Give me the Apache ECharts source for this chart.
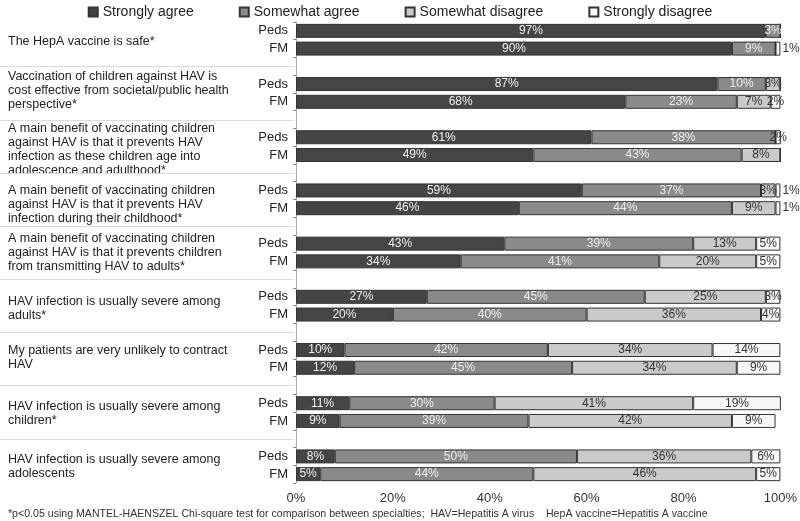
<!DOCTYPE html>
<html>
<head>
<meta charset="utf-8">
<script src="https://cdn.jsdelivr.net/npm/echarts@6/dist/echarts.min.js"></script>
<style>
html,body{margin:0;padding:0;background:#fff;}
#chart{width:800px;height:521px;}
</style>
</head>
<body>
<div id="chart"></div>
<script>
var statements = [
  "The HepA vaccine is safe*",
  "Vaccination of children against HAV is\ncost effective from societal/public health\nperspective*",
  "A main benefit of vaccinating children\nagainst HAV is that it prevents HAV\ninfection as these children age into\nadolescence and adulthood*",
  "A main benefit of vaccinating children\nagainst HAV is that it prevents HAV\ninfection during their childhood*",
  "A main benefit of vaccinating children\nagainst HAV is that it prevents children\nfrom transmitting HAV to adults*",
  "HAV infection is usually severe among\nadults*",
  "My patients are very unlikely to contract\nHAV",
  "HAV infection is usually severe among\nchildren*",
  "HAV infection is usually severe among\nadolescents"
];
var groups = ["Peds", "FM"];
var seriesNames = ["Strongly agree", "Somewhat agree", "Somewhat disagree", "Strongly disagree"];
// values per statement: [Peds, FM]
var stronglyAgree    = [97, 90, 87, 68, 61, 49, 59, 46, 43, 34, 27, 20, 10, 12, 11, 9, 8, 5];
var somewhatAgree    = [3, 9, 10, 23, 38, 43, 37, 44, 39, 41, 45, 40, 42, 45, 30, 39, 50, 44];
var somewhatDisagree = [0, 0, 3, 7, 0, 8, 3, 9, 13, 20, 25, 36, 34, 34, 41, 42, 36, 46];
var stronglyDisagree = [0, 1, 0, 2, 2, 0, 1, 1, 5, 5, 3, 4, 14, 9, 19, 9, 6, 5];
var xTicks = [0, 20, 40, 60, 80, 100];
var footnote = "*p<0.05 using MANTEL-HAENSZEL Chi-square test for comparison between specialties;  HAV=Hepatitis A virus    HepA vaccine=Hepatitis A vaccine";

// layout-only: vertical nudge (px) of each statement text relative to its group centre
var statementNudge = [2, -2, 3, 5, 0, 3, -1, 1, 1];

var colors = ["#454545", "#8a8a8a", "#cacaca", "#f7f7f7"];
var labelColors = ["#f0f0f0", "#eeeeee", "#333333", "#333333"];
var FONT = 'Liberation Sans, Arial, sans-serif';

var cats = [];
var slotOf = [];
var blankSlots = [];
for (var i = 0; i < statements.length; i++) {
  for (var g = 0; g < groups.length; g++) {
    slotOf.push(cats.length);
    cats.push(groups[g]);
  }
  if (i < statements.length - 1) { blankSlots.push(cats.length); cats.push(""); }
}
function toSlots(arr) {
  var out = cats.map(function () { return '-'; });
  arr.forEach(function (v, k) { out[slotOf[k]] = v; });
  return out;
}
var allData = [stronglyAgree, somewhatAgree, somewhatDisagree, stronglyDisagree];

var series = allData.map(function (arr, si) {
  var d = toSlots(arr).map(function (v) {
    if (v === '-') return '-';
    var item = { value: v };
    if (si === 3 && v === 1) item.label = { position: 'right', distance: 2 };
    return item;
  });
  return {
    name: seriesNames[si],
    type: 'bar',
    stack: 'total',
    barWidth: 14,
    data: d,
    itemStyle: { color: colors[si], borderColor: '#333', borderWidth: 1 },
    label: {
      show: true,
      position: 'inside',
      color: labelColors[si],
      fontSize: 12,
      fontFamily: FONT,
      formatter: function (p) { return p.value ? p.value + '%' : ''; }
    },
    labelLayout: { hideOverlap: false },
    emphasis: { disabled: true },
    animation: false
  };
});

var chart = echarts.init(document.getElementById('chart'));
chart.setOption({
  animation: false,
  textStyle: { fontFamily: FONT },
  legend: {
    top: 0,
    left: 'center',
    itemWidth: 9,
    itemHeight: 9,
    itemGap: 45,
    icon: 'rect',
    textStyle: { fontSize: 14, color: '#222' },
    data: seriesNames
  },
  grid: { left: 296, right: 17, top: 22, bottom: 38, containLabel: false },
  xAxis: {
    type: 'value',
    min: xTicks[0],
    max: xTicks[xTicks.length - 1],
    interval: xTicks[1] - xTicks[0],
    axisLine: { show: false },
    axisTick: { show: false },
    splitLine: { show: false },
    axisLabel: { formatter: '{value}%', fontSize: 13, color: '#333', margin: 9 }
  },
  yAxis: {
    type: 'category',
    inverse: true,
    data: cats,
    axisLine: { show: true, lineStyle: { color: '#aaa', width: 1 } },
    axisTick: { show: true, length: 3, lineStyle: { color: '#888' } },
    axisLabel: { fontSize: 13, color: '#222', margin: 8 }
  },
  series: series
});

var graphics = [];
var axisX = chart.convertToPixel({ xAxisIndex: 0 }, 0);
statements.forEach(function (s, i) {
  var y1 = chart.convertToPixel({ yAxisIndex: 0 }, slotOf[i * 2]);
  var y2 = chart.convertToPixel({ yAxisIndex: 0 }, slotOf[i * 2 + 1]);
  graphics.push({
    type: 'text',
    x: 8,
    y: (y1 + y2) / 2 + statementNudge[i],
    style: {
      text: s,
      fontSize: 12.5,
      lineHeight: 14,
      fill: '#222',
      verticalAlign: 'middle',
      fontFamily: FONT
    }
  });
});
blankSlots.forEach(function (b) {
  var y = Math.round(chart.convertToPixel({ yAxisIndex: 0 }, b)) + 0.5;
  graphics.push({
    type: 'line',
    shape: { x1: 0, y1: y, x2: axisX - 2, y2: y },
    style: { stroke: '#dcdcdc', lineWidth: 1 }
  });
});
graphics.push({
  type: 'text',
  x: 8,
  y: 514,
  style: { text: footnote, fontSize: 10.6, fill: '#333', verticalAlign: 'middle', fontFamily: FONT }
});
chart.setOption({ graphic: graphics });
</script>
</body>
</html>
